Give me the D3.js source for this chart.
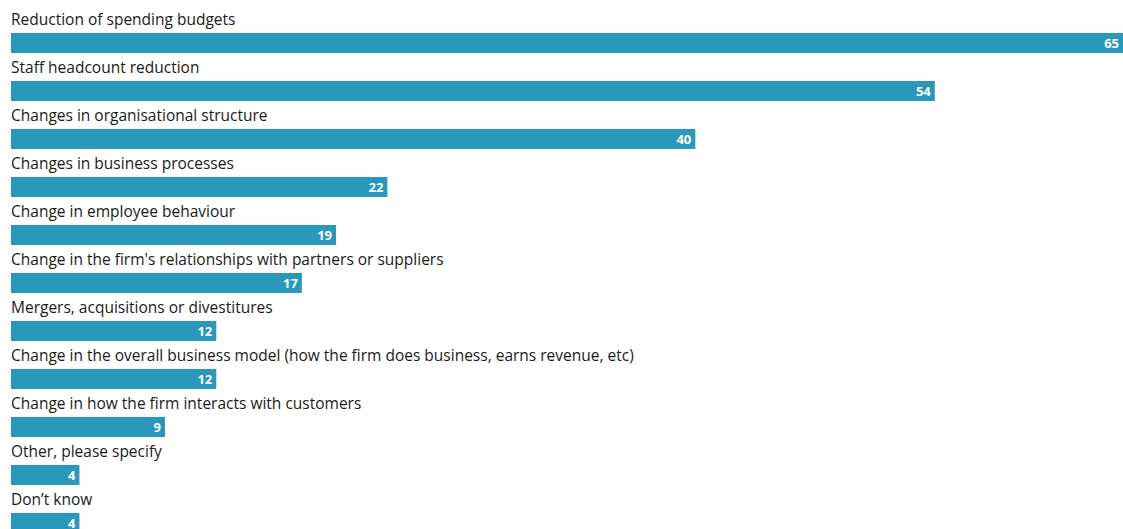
<!DOCTYPE html>
<html>
<head>
<meta charset="utf-8">
<script src="https://cdn.jsdelivr.net/npm/d3@7"></script>
<style>
  html, body { margin: 0; padding: 0; background: #fff; }
  svg { display: block; }
</style>
</head>
<body>
<svg id="chart" width="1123" height="529"></svg>
<script>
// Survey answers and their shares (%)
const categories = [
  "Reduction of spending budgets",
  "Staff headcount reduction",
  "Changes in organisational structure",
  "Changes in business processes",
  "Change in employee behaviour",
  "Change in the firm's relationships with partners or suppliers",
  "Mergers, acquisitions or divestitures",
  "Change in the overall business model (how the firm does business, earns revenue, etc)",
  "Change in how the firm interacts with customers",
  "Other, please specify",
  "Don\u2019t know"
];
const values = [65, 54, 40, 22, 19, 17, 12, 12, 9, 4, 4];

const svg = d3.select("#chart");
const W = 1123;

const x = d3.scaleLinear().domain([0, 65]).range([11, W]);
const rowStep = 48;
const y = d3.scaleBand()
  .domain(categories)
  .range([9, 9 + rowStep * categories.length])
  .paddingInner(0).paddingOuter(0);

const barTop = 24, barH = 20;

const rows = svg.selectAll("g.row")
  .data(categories.map((c, i) => ({ c, v: values[i] })))
  .join("g")
  .attr("class", "row")
  .attr("transform", d => `translate(0,${y(d.c)})`);

rows.append("text")
  .attr("x", 11)
  .attr("y", 16)
  .attr("font-family", "'Open Sans', sans-serif")
  .attr("font-size", 15.5)
  .attr("fill", "#1a1a1a")
  .text(d => d.c);

rows.append("rect")
  .attr("x", x(0))
  .attr("y", barTop)
  .attr("width", d => x(d.v) - x(0))
  .attr("height", barH)
  .attr("fill", "#2998ba");

rows.append("text")
  .attr("x", d => x(d.v) - 4)
  .attr("y", barTop + 15)
  .attr("text-anchor", "end")
  .attr("font-family", "'Open Sans', sans-serif")
  .attr("font-weight", "bold")
  .attr("font-size", 13)
  .attr("fill", "#fff")
  .text(d => d.v);
</script>
</body>
</html>
